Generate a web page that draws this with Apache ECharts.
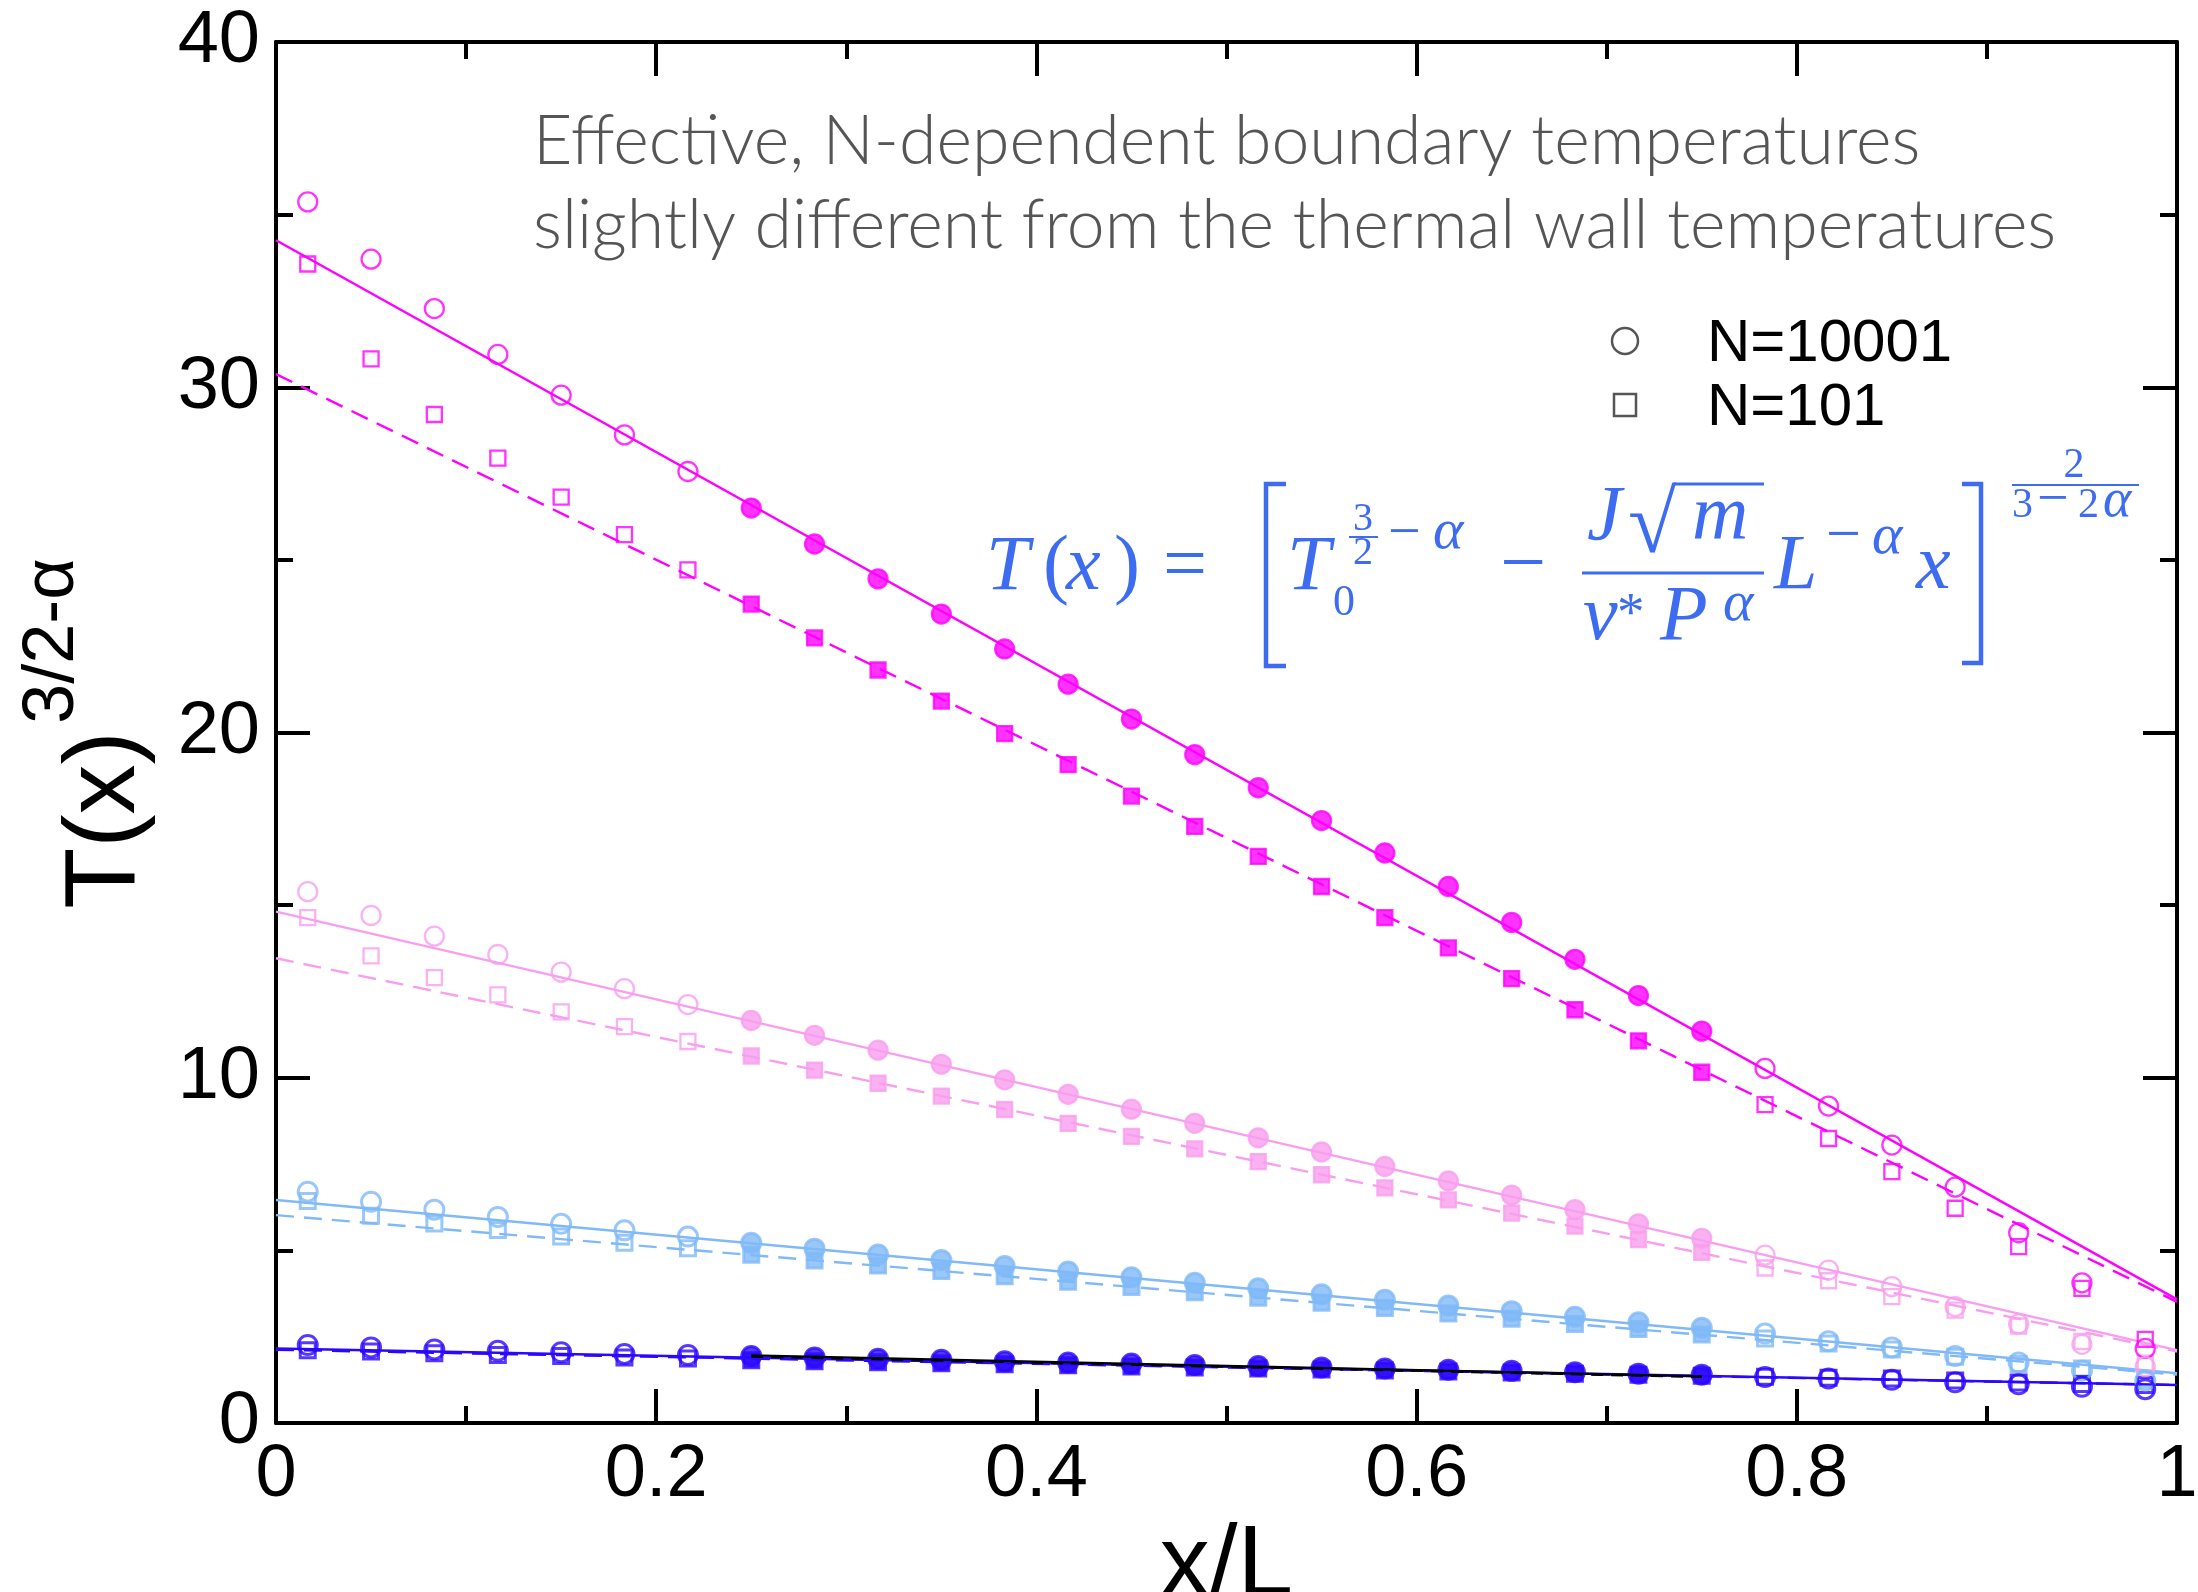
<!DOCTYPE html>
<html>
<head>
<meta charset="utf-8">
<script src="https://cdn.jsdelivr.net/npm/echarts@6/dist/echarts.min.js"></script>
<style>
  html, body { margin: 0; padding: 0; background: #fff; }
  #chart { width: 2198px; height: 1592px; }
</style>
</head>
<body>
<div id="chart"></div>
<script>
// Bin centres along the chain, x/L
const xPos = [0.0167, 0.05, 0.0833, 0.1167, 0.15, 0.1833, 0.2167, 0.25, 0.2833, 0.3167,
              0.35, 0.3833, 0.4167, 0.45, 0.4833, 0.5167, 0.55, 0.5833, 0.6167, 0.65,
              0.6833, 0.7167, 0.75, 0.7833, 0.8167, 0.85, 0.8833, 0.9167, 0.95, 0.9833];

// T(x)^(3/2-alpha) profiles, four wall-temperature settings, two system sizes
const magentaN10001 = [35.37, 33.71, 32.28, 30.95, 29.77, 28.62, 27.56, 26.50, 25.46, 24.45,
                       23.43, 22.42, 21.40, 20.39, 19.36, 18.40, 17.45, 16.51, 15.54, 14.50,
                       13.43, 12.38, 11.35, 10.27, 9.18, 8.05, 6.83, 5.51, 4.06, 2.16];
const magentaN101   = [33.57, 30.82, 29.21, 27.95, 26.82, 25.73, 24.71, 23.72, 22.74, 21.81,
                       20.91, 19.97, 19.07, 18.16, 17.28, 16.41, 15.54, 14.64, 13.76, 12.87,
                       11.97, 11.07, 10.16, 9.22, 8.24, 7.28, 6.22, 5.11, 3.90, 2.42];
const pinkN10001    = [15.39, 14.70, 14.10, 13.57, 13.06, 12.58, 12.12, 11.66, 11.23, 10.80,
                       10.39, 9.94, 9.52, 9.09, 8.68, 8.26, 7.85, 7.43, 7.01, 6.60,
                       6.18, 5.77, 5.35, 4.86, 4.43, 3.95, 3.37, 2.87, 2.28, 1.63];
const pinkN101      = [14.64, 13.53, 12.90, 12.40, 11.91, 11.48, 11.05, 10.63, 10.22, 9.84,
                       9.47, 9.08, 8.68, 8.30, 7.94, 7.57, 7.19, 6.81, 6.46, 6.08,
                       5.70, 5.31, 4.94, 4.49, 4.12, 3.66, 3.27, 2.81, 2.36, 1.73];
const skyN10001     = [6.70, 6.41, 6.18, 5.97, 5.77, 5.58, 5.40, 5.22, 5.05, 4.88,
                       4.72, 4.55, 4.39, 4.22, 4.06, 3.90, 3.73, 3.57, 3.40, 3.24,
                       3.08, 2.92, 2.76, 2.59, 2.37, 2.19, 1.94, 1.75, 1.52, 1.23];
const skyN101       = [6.43, 6.00, 5.78, 5.59, 5.40, 5.22, 5.06, 4.87, 4.71, 4.56,
                       4.40, 4.25, 4.09, 3.94, 3.79, 3.63, 3.48, 3.33, 3.17, 3.02,
                       2.87, 2.72, 2.56, 2.45, 2.30, 2.13, 1.92, 1.71, 1.58, 1.25];
const blueN10001    = [2.26, 2.19, 2.13, 2.09, 2.05, 2.00, 1.97, 1.94, 1.90, 1.86,
                       1.83, 1.79, 1.75, 1.72, 1.68, 1.65, 1.61, 1.58, 1.54, 1.51,
                       1.47, 1.43, 1.40, 1.33, 1.29, 1.25, 1.18, 1.12, 1.05, 0.98];
const blueN101      = [2.11, 2.07, 2.02, 1.97, 1.94, 1.90, 1.87, 1.82, 1.79, 1.76,
                       1.73, 1.70, 1.67, 1.64, 1.61, 1.58, 1.55, 1.52, 1.49, 1.46,
                       1.43, 1.40, 1.37, 1.34, 1.31, 1.29, 1.23, 1.17, 1.13, 1.10];

// Linear fits (values at the two ends of fitX)
const fitX = [0, 1];
const magentaFit10001 = [34.26, 3.58];
const magentaFit101   = [30.38, 3.51];
const pinkFit10001    = [14.81, 2.11];
const pinkFit101      = [13.46, 2.07];
const skyFit10001     = [6.46, 1.44];
const skyFit101       = [6.02, 1.40];
const blueFit10001    = [2.16, 1.10];
const blueFit101      = [2.12, 1.10];
// Bulk-only fit for the coldest setting
const bulkFitX      = [0.25, 0.75];
const bulkFit10001  = [1.96, 1.35];
const bulkFit101    = [1.92, 1.33];

// Bulk window: points inside are drawn filled
const BULK_MIN = 0.25, BULK_MAX = 0.75;

const xTicks = { min: 0, max: 1, interval: 0.2 };
const yTicks = { min: 0, max: 40, interval: 10 };

const groups = [
  { color: '#ff00ff', n10001: magentaN10001, n101: magentaN101, fit10001: magentaFit10001, fit101: magentaFit101, stroke: 2.3 },
  { color: '#f99eee', n10001: pinkN10001,    n101: pinkN101,    fit10001: pinkFit10001,    fit101: pinkFit101,    stroke: 2.3 },
  { color: '#80b9f7', n10001: skyN10001,     n101: skyN101,     fit10001: skyFit10001,     fit101: skyFit101,     stroke: 3 },
  { color: '#2a08ff', n10001: blueN10001,    n101: blueN101,    fit10001: blueFit10001,    fit101: blueFit101,    stroke: 3 }
];

function pairs(xs, ys) { return xs.map((x, i) => [x, ys[i]]); }

function markerData(values, color, stroke) {
  return xPos.map((x, i) => {
    const inBulk = x >= BULK_MIN - 1e-6 && x <= BULK_MAX + 1e-6;
    return {
      value: [x, values[i]],
      itemStyle: inBulk
        ? { color: color, borderColor: color, borderWidth: stroke }
        : { color: 'rgba(0,0,0,0)', borderColor: color, borderWidth: stroke }
    };
  });
}

const series = [];
groups.forEach(g => {
  series.push({
    type: 'line', data: pairs(fitX, g.fit10001), symbol: 'none', silent: true, z: 2,
    lineStyle: { color: g.color, width: 2.4, type: 'solid' }
  });
  series.push({
    type: 'line', data: pairs(fitX, g.fit101), symbol: 'none', silent: true, z: 2,
    lineStyle: { color: g.color, width: 2.4, type: [18, 10] }
  });
});
groups.forEach(g => {
  series.push({
    type: 'scatter', data: markerData(g.n101, g.color, g.stroke), symbol: 'rect',
    symbolSize: 15, silent: true, z: 3
  });
  series.push({
    type: 'scatter', data: markerData(g.n10001, g.color, g.stroke), symbol: 'circle',
    symbolSize: 19, silent: true, z: 4
  });
});
series.push({
  type: 'line', data: pairs(bulkFitX, bulkFit101), symbol: 'none', silent: true, z: 5,
  lineStyle: { color: '#000', width: 2, type: [12, 8] }
});
series.push({
  type: 'line', data: pairs(bulkFitX, bulkFit10001), symbol: 'none', silent: true, z: 5,
  lineStyle: { color: '#000', width: 2.4, type: 'solid' }
});

const SANS = '"Liberation Sans", Arial, Helvetica, sans-serif';
const MATH = '"Liberation Serif", "DejaVu Serif", serif';
const MATH_COLOR = '#3d6cf0';
const NOTE_FONT = 'Lato, "Open Sans", sans-serif';

const frame = {
  axisLine: { show: true, onZero: false, lineStyle: { color: '#000', width: 4 } },
  axisTick: { show: true, inside: true, length: 34, lineStyle: { color: '#000', width: 4 } },
  minorTick: { show: true, splitNumber: 2, length: 17, lineStyle: { color: '#000', width: 4 } },
  splitLine: { show: false },
  minorSplitLine: { show: false }
};

// text placed by its baseline
function mt(str, left, baseline, size, italic, align) {
  return {
    type: 'text', x: left, y: baseline - 0.31 * size, silent: true,
    style: {
      text: str, fontSize: size, fontFamily: MATH, fontStyle: italic ? 'italic' : 'normal',
      fill: MATH_COLOR, align: align || 'left', verticalAlign: 'middle'
    }
  };
}
function mline(x1, y1, x2, y2, w) {
  return { type: 'line', silent: true, shape: { x1, y1, x2, y2 }, style: { stroke: MATH_COLOR, lineWidth: w } };
}
function mpoly(points, w) {
  return { type: 'polyline', silent: true, shape: { points }, style: { stroke: MATH_COLOR, lineWidth: w, fill: null } };
}

const formula = [
  mt('T', 986, 593, 78, true),
  mt('(', 1043, 593, 78, false),
  mt('x', 1066, 593, 78, true),
  mt(')', 1114, 593, 78, false),
  mt('=', 1163, 593, 78, false),
  mpoly([[1286, 484], [1266, 484], [1266, 666], [1286, 666]], 4.5),
  mt('T', 1287, 593, 78, true),
  mt('0', 1333, 617, 44, false),
  mt('3', 1363, 532, 40, false, 'center'),
  mline(1349, 537, 1378, 537, 2),
  mt('2', 1363, 566, 40, false, 'center'),
  mt('\u2212', 1388, 553, 58, false),
  mt('\u03b1', 1433, 551, 58, true),
  mt('\u2212', 1500, 593, 82, false),
  mt('J', 1587, 543, 78, true),
  mt('\u221a', 1628, 556, 88, false),
  mline(1674, 484, 1764, 484, 3),
  mt('m', 1692, 543, 78, true),
  mline(1582, 573, 1764, 573, 3),
  mt('\u03bd', 1583, 643, 78, true),
  mt('*', 1617, 633, 55, false),
  mt('P', 1660, 643, 78, true),
  mt('\u03b1', 1723, 623, 58, true),
  mt('L', 1774, 592, 78, true),
  mt('\u2212', 1826, 557, 62, false),
  mt('\u03b1', 1872, 556, 58, true),
  mt('x', 1916, 592, 78, true),
  mpoly([[1962, 484], [1981, 484], [1981, 663], [1962, 663]], 4.5),
  mt('2', 2074, 479, 42, false, 'center'),
  mline(2012, 485, 2139, 485, 2.2),
  mt('3', 2012, 519, 42, false),
  mt('\u2212', 2037, 519, 56, false),
  mt('2', 2078, 519, 42, false),
  mt('\u03b1', 2103, 519, 54, true)
];

const annotation = [
  { type: 'text', x: 533, y: 163 - 0.31 * 68, silent: true,
    style: { text: 'Effective, N-dependent boundary temperatures', fontSize: 68, fontWeight: 300, fontFamily: NOTE_FONT, fill: '#555', align: 'left', verticalAlign: 'middle' } },
  { type: 'text', x: 533, y: 247 - 0.31 * 68, silent: true,
    style: { text: 'slightly different from the thermal wall temperatures', fontSize: 68, fontWeight: 300, fontFamily: NOTE_FONT, fill: '#555', align: 'left', verticalAlign: 'middle' } }
];

const legendMarks = [
  { type: 'circle', silent: true, shape: { cx: 1625, cy: 341, r: 13 }, style: { stroke: '#555', lineWidth: 2.5, fill: null } },
  { type: 'rect', silent: true, shape: { x: 1614, y: 394, width: 22, height: 22 }, style: { stroke: '#555', lineWidth: 2.5, fill: null } },
  { type: 'text', x: 1707, y: 363 - 0.31 * 60, silent: true,
    style: { text: 'N=10001', fontSize: 60, fontFamily: SANS, fill: '#000', align: 'left', verticalAlign: 'middle' } },
  { type: 'text', x: 1707, y: 427 - 0.31 * 60, silent: true,
    style: { text: 'N=101', fontSize: 60, fontFamily: SANS, fill: '#000', align: 'left', verticalAlign: 'middle' } }
];

// vertical axis title with its exponent
const yTitle = [
  { type: 'text', x: 106, y: 820, rotation: Math.PI / 2, silent: true,
    style: { text: 'T(x)', fontSize: 100, fontFamily: SANS, fill: '#000', align: 'center', verticalAlign: 'middle' } },
  { type: 'text', x: 53, y: 641, rotation: Math.PI / 2, silent: true,
    style: { text: '3/2-\u03b1', fontSize: 72, fontFamily: SANS, fill: '#000', align: 'center', verticalAlign: 'middle' } }
];

const chart = echarts.init(document.getElementById('chart'), null, { renderer: 'canvas' });
chart.setOption({
  animation: false,
  backgroundColor: '#fff',
  grid: { left: 276, right: 21, top: 42, bottom: 169, containLabel: false, outerBoundsMode: 'none' },
  xAxis: [
    Object.assign({
      type: 'value', position: 'bottom', min: xTicks.min, max: xTicks.max, interval: xTicks.interval,
      axisLabel: { show: true, fontSize: 74, fontFamily: SANS, color: '#000', margin: 16 },
      name: 'x/L', nameLocation: 'middle', nameGap: 90,
      nameTextStyle: { fontSize: 100, fontFamily: SANS, color: '#000' }
    }, frame),
    Object.assign({
      type: 'value', position: 'top', min: xTicks.min, max: xTicks.max, interval: xTicks.interval,
      axisLabel: { show: false }
    }, frame)
  ],
  yAxis: [
    Object.assign({
      type: 'value', position: 'left', min: yTicks.min, max: yTicks.max, interval: yTicks.interval,
      axisLabel: { show: true, fontSize: 74, fontFamily: SANS, color: '#000', margin: 16 }
    }, frame),
    Object.assign({
      type: 'value', position: 'right', min: yTicks.min, max: yTicks.max, interval: yTicks.interval,
      axisLabel: { show: false }
    }, frame)
  ],
  series: series,
  graphic: { elements: [].concat(annotation, legendMarks, formula, yTitle) }
});
</script>
</body>
</html>
